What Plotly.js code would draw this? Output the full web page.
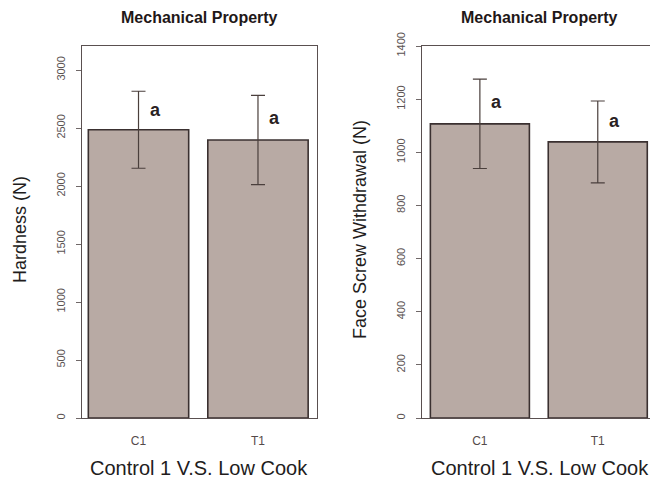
<!DOCTYPE html>
<html>
<head>
<meta charset="utf-8">
<script src="https://cdn.plot.ly/plotly-3.0.1.min.js"></script>
<style>
  html, body { margin: 0; padding: 0; overflow: hidden; background: #ffffff; }
</style>
</head>
<body>
<div id="chart" style="width:660px;height:480px"></div>
<script>
// Treatment groups
const categories = ['C1', 'T1'];

// Hardness (N): mean and error
const hardnessMean = [2485, 2397];
const hardnessErr = [332, 385];

// Face screw withdrawal (N): mean and error
const withdrawalMean = [1107, 1039];
const withdrawalErr = [168, 154];

// Significance group letters
const groupLetters = ['a', 'a'];

// Text
const panelTitle = 'Mechanical Property';
const xTitle = 'Control 1 V.S. Low Cook';
const yTitles = ['Hardness (N)', 'Face Screw Withdrawal (N)'];

// Axis ticks
const hardnessTicks = [0, 500, 1000, 1500, 2000, 2500, 3000];
const withdrawalTicks = [0, 200, 400, 600, 800, 1000, 1200, 1400];

const W = 660, H = 480;
const FONT = 'Liberation Sans, Arial, Helvetica, sans-serif';
const barFill = '#b8aaa4';
const barLine = '#3a3030';
const errColor = '#4a3f3c';
const frameColor = '#5a5050';

function barTrace(means, errs, xa, ya) {
  return {
    type: 'bar',
    x: categories,
    y: means,
    xaxis: xa,
    yaxis: ya,
    width: 0.84,
    marker: { color: barFill, line: { color: barLine, width: 1.6 } },
    error_y: { type: 'data', array: errs, visible: true, color: errColor, thickness: 1.2, width: 7 },
    hoverinfo: 'none'
  };
}

const data = [
  barTrace(hardnessMean, hardnessErr, 'x', 'y'),
  barTrace(withdrawalMean, withdrawalErr, 'x2', 'y2')
];

function letterNotes(means, errs, xa, ya) {
  return categories.map((c, i) => ({
    x: c, y: means[i] + errs[i] * 0.5, xref: xa, yref: ya,
    xanchor: 'center', yanchor: 'middle',
    text: groupLetters[i], showarrow: false, xshift: 17,
    font: { family: FONT, size: 18, color: '#2a2222', weight: 'bold' }
  }));
}

const xAxisBase = {
  showline: true, mirror: true, linecolor: frameColor, linewidth: 1,
  ticks: '', showgrid: false, zeroline: false, fixedrange: true,
  tickfont: { family: FONT, size: 12, color: '#544a4a' },
  ticklabelstandoff: 12
};
const yAxisBase = {
  showline: true, mirror: true, linecolor: frameColor, linewidth: 1,
  ticks: 'outside', ticklen: 5, tickcolor: '#706868', tickwidth: 1,
  tickangle: -90, showgrid: false, zeroline: false, fixedrange: true,
  tickfont: { family: FONT, size: 11, color: '#5a5252' },
  ticklabelstandoff: 7
};

const px = v => v / W;
const py = v => (418 - v) / 372;

function textNote(text, x, y, size, opts) {
  return Object.assign({
    text: text, x: px(x), y: py(y), xref: 'paper', yref: 'paper',
    xanchor: 'center', yanchor: 'middle', showarrow: false,
    font: { family: FONT, size: size, color: '#221c1c' }
  }, opts || {});
}

const titleFont = { family: FONT, size: 16, color: '#1f1818', weight: 'bold' };

const layout = {
  width: W, height: H,
  margin: { l: 0, r: 0, t: 46, b: 62 },
  paper_bgcolor: '#ffffff', plot_bgcolor: '#ffffff',
  showlegend: false,
  font: { family: FONT },
  xaxis: Object.assign({}, xAxisBase, { domain: [px(82), px(317)], range: [-0.473, 1.494], anchor: 'y' }),
  yaxis: Object.assign({}, yAxisBase, { domain: [0, 1], range: [0, 3207], tickvals: hardnessTicks, anchor: 'x' }),
  xaxis2: Object.assign({}, xAxisBase, { domain: [px(422), px(656)], range: [-0.491, 1.494], anchor: 'y2' }),
  yaxis2: Object.assign({}, yAxisBase, { domain: [0, 1], range: [0, 1400], tickvals: withdrawalTicks, anchor: 'x2' }),
  annotations: [
    textNote(panelTitle, 199.5, 17, 16, { font: titleFont }),
    textNote(panelTitle, 539.5, 17, 16, { font: titleFont }),
    textNote(xTitle, 199.5, 468, 20),
    textNote(xTitle, 539.5, 468, 20),
    textNote(yTitles[0], 20, 230, 18, { textangle: -90 }),
    textNote(yTitles[1], 360, 230, 18, { textangle: -90 })
  ].concat(letterNotes(hardnessMean, hardnessErr, 'x', 'y'))
   .concat(letterNotes(withdrawalMean, withdrawalErr, 'x2', 'y2'))
};

Plotly.newPlot('chart', data, layout, { displayModeBar: false, staticPlot: true });
</script>
</body>
</html>
